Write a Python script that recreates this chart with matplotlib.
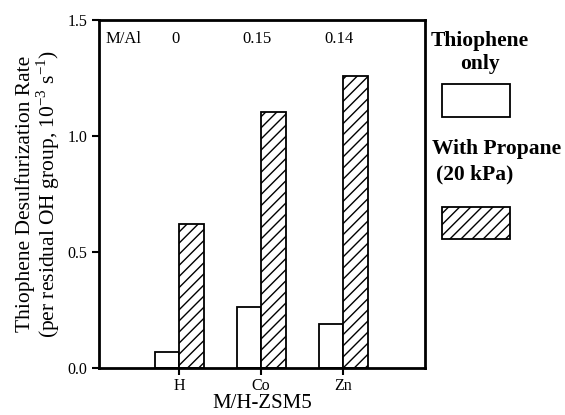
import matplotlib
matplotlib.use("Agg")
import matplotlib.pyplot as plt
import numpy as np
from matplotlib.patches import Rectangle

plt.rcParams['font.family'] = ['Liberation Serif', 'DejaVu Serif']
plt.rcParams['hatch.linewidth'] = 1.0
plt.rcParams['mathtext.fontset'] = 'custom'
plt.rcParams['mathtext.rm'] = 'Liberation Serif'

categories = ['H', 'Co', 'Zn']
m_al = ['0', '0.15', '0.14']
thiophene_only = [0.07, 0.265, 0.19]
with_propane = [0.62, 1.105, 1.26]

fig = plt.figure(figsize=(5.65, 4.15), dpi=100)
ax = fig.add_axes([99/565, 1-368/415, (425-99)/565, (368-20)/415])

x = np.arange(1, len(categories)+1)
w = 0.3
ax.bar(x - w/2, thiophene_only, w, color='white', edgecolor='black', linewidth=1.3)
ax.bar(x + w/2, with_propane, w, color='white', edgecolor='black', linewidth=1.3, hatch='///')

ax.set_xlim(0.02, 4.0)
ax.set_ylim(0, 1.5)
ax.set_xticks(x)
ax.set_xticklabels(categories, fontsize=11.5)
ax.set_yticks([0, 0.5, 1.0, 1.5])
ax.set_yticklabels(['0.0', '0.5', '1.0', '1.5'], fontsize=11.5)
ax.tick_params(direction='out', length=5, width=1.5)
ax.tick_params(axis='x', pad=2)
for s in ax.spines.values():
    s.set_linewidth(2)

ax.set_xlabel('M/H-ZSM5', fontsize=15, labelpad=0)
ax.set_ylabel('Thiophene Desulfurization Rate\n(per residual OH group, 10$^{-3}$ s$^{-1}$)',
              fontsize=15.5, linespacing=0.95, labelpad=4)

ax.text(0.10, 1.42, 'M/Al', fontsize=12, ha='left', va='center')
for xi, lab in zip(x - 0.05, m_al):
    ax.text(xi, 1.42, lab, fontsize=12, ha='center', va='center')

# Legend drawn in figure coordinates
fig.text(480/565, 1-41/415, 'Thiophene', fontsize=15.5, fontweight='bold', ha='center', va='center')
fig.text(480/565, 1-64/415, 'only', fontsize=15.5, fontweight='bold', ha='center', va='center')
fig.patches.append(Rectangle((442/565, 1-117/415), 68/565, 33/415, transform=fig.transFigure,
                             facecolor='white', edgecolor='black', linewidth=1.3))
fig.text(432/565, 1-149/415, 'With Propane', fontsize=15.5, fontweight='bold', ha='left', va='center')
fig.text(436/565, 1-174/415, '(20 kPa)', fontsize=15.5, fontweight='bold', ha='left', va='center')
fig.patches.append(Rectangle((442/565, 1-239/415), 68/565, 32/415, transform=fig.transFigure,
                             facecolor='white', edgecolor='black', linewidth=1.3, hatch='///'))

fig.savefig('out.png', dpi=100)
